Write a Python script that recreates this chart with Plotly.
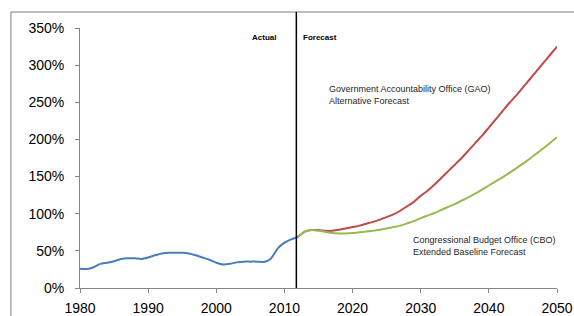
import plotly.graph_objects as go

actual_years = list(range(1980, 2013))
actual_vals = [26, 25.5, 28, 32.5, 34, 36, 39, 40, 40, 39, 41, 44, 46.5, 47.5, 47.5, 47.5, 46.5, 44, 41, 38, 34, 31.5, 32.5, 34.5, 35.5, 35.5, 35.5, 35, 39.5, 53, 61, 65.5, 69]

fc_years = list(range(2012, 2051))
gao_vals = [69, 76, 78, 78, 77, 77, 78.5, 80, 82, 84, 86.5, 89, 92, 95.5, 99, 104, 110, 116, 124,
            131, 139, 148, 157, 166, 175, 185, 195, 205, 216, 227, 238, 249, 259, 270, 281, 292, 303, 314, 325]
cbo_vals = [69, 76, 78, 77, 75.5, 74, 73.5, 73.5, 74, 75, 76, 77, 78.5, 80, 82, 84, 87, 90, 94,
            97.5, 101, 105, 109, 113, 117.5, 122, 127, 132.5, 138, 143.5, 149, 155, 161, 167.5, 174, 181, 188, 195.5, 203]

x_ticks = [1980, 1990, 2000, 2010, 2020, 2030, 2040, 2050]
y_ticks = [0, 50, 100, 150, 200, 250, 300, 350]
y_tick_labels = [f"{v}%" for v in y_ticks]

split_year = 2011.75

fig = go.Figure()
fig.add_trace(go.Scatter(x=actual_years, y=actual_vals, mode="lines",
                         line=dict(color="#4A7EBB", width=2, shape="spline", smoothing=0.6)))
fig.add_trace(go.Scatter(x=fc_years, y=gao_vals, mode="lines",
                         line=dict(color="#BE4B48", width=2, shape="spline", smoothing=0.6)))
fig.add_trace(go.Scatter(x=fc_years, y=cbo_vals, mode="lines",
                         line=dict(color="#98B954", width=2, shape="spline", smoothing=0.6)))

font_family = "Liberation Sans, Arial, sans-serif"

fig.update_layout(
    width=574, height=316,
    margin=dict(l=80, r=17, t=28, b=28, autoexpand=False),
    paper_bgcolor="white", plot_bgcolor="white",
    showlegend=False,
    font=dict(family=font_family, size=14, color="#000000"),
    xaxis=dict(range=[1980, 2050], tickvals=x_ticks, ticktext=[str(v) for v in x_ticks],
               showgrid=False, zeroline=False, showline=True, linecolor="#868686", linewidth=1,
               ticks="outside", ticklen=4, tickcolor="#868686", ticklabelstandoff=3,
               automargin=False, tickfont=dict(size=14, color="#000000")),
    yaxis=dict(range=[0, 350], tickvals=y_ticks, ticktext=y_tick_labels,
               showgrid=False, zeroline=False, showline=True, linecolor="#868686", linewidth=1,
               ticks="outside", ticklen=4, tickcolor="#868686", ticklabelstandoff=8,
               automargin=False, tickfont=dict(size=14, color="#000000")),
    shapes=[
        dict(type="rect", xref="paper", yref="paper", x0=-0.1447, x1=1.06, y0=-0.15, y1=1.0615,
             line=dict(color="#7F7F7F", width=1), fillcolor="rgba(0,0,0,0)", layer="below"),
        dict(type="line", xref="x", yref="paper", x0=split_year, x1=split_year, y0=0, y1=1.0615,
             line=dict(color="#000000", width=1.5)),
    ],
    annotations=[
        dict(text="<b>Actual</b>", x=split_year, xref="x", y=(288 - 37) / 260, yref="paper", xanchor="right",
             yanchor="middle", xshift=-18, showarrow=False, font=dict(size=8, color="#000000")),
        dict(text="<b>Forecast</b>", x=split_year, xref="x", y=(288 - 37) / 260, yref="paper", xanchor="left",
             yanchor="middle", xshift=5, showarrow=False, font=dict(size=8, color="#000000")),
        dict(text="Government Accountability Office (GAO)<br>Alternative Forecast",
             x=(327 - 80) / 477, xref="paper", y=(288 - 95) / 260, yref="paper",
             xanchor="left", yanchor="middle", align="left", showarrow=False,
             font=dict(size=9, color="#262626")),
        dict(text="Congressional Budget Office (CBO)<br>Extended Baseline Forecast",
             x=(411 - 80) / 477, xref="paper", y=(288 - 246) / 260, yref="paper",
             xanchor="left", yanchor="middle", align="left", showarrow=False,
             font=dict(size=9, color="#262626")),
    ],
)

fig.write_html("out.html", config={"displayModeBar": False},
               post_script="document.body.style.margin='0';document.body.style.overflow='hidden';")
